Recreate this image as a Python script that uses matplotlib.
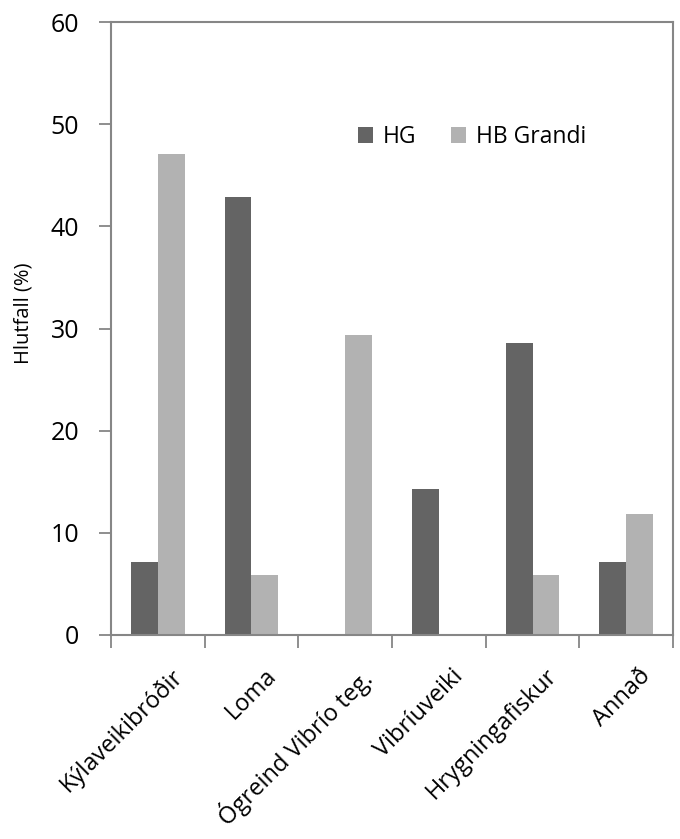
import matplotlib
matplotlib.use("Agg")
import matplotlib.pyplot as plt
import numpy as np

categories = ["Kýlaveikibróðir", "Loma", "Ógreind Vibrío teg.", "Vibríuveiki", "Hrygningafiskur", "Annað"]
hg = [7.1, 42.9, 0, 14.3, 28.6, 7.1]
hb_grandi = [47.1, 5.9, 29.4, 0, 5.9, 11.8]

plt.rcParams["font.family"] = ["Open Sans", "DejaVu Sans"]

fig = plt.figure(figsize=(6.8, 8.39), dpi=100)
ax = fig.add_axes([111 / 680, 1 - 635 / 839, (673 - 111) / 680, (635 - 22) / 839])

x = np.arange(len(categories))
w = 0.285
ax.bar(x - w / 2, hg, w, color="#646464", label="HG")
ax.bar(x + w / 2, hb_grandi, w, color="#b2b2b2", label="HB Grandi")

ax.set_xlim(-0.5, len(categories) - 0.5)
ax.set_ylim(0, 60)
ax.set_yticks(range(0, 61, 10))
ax.set_xticks(np.arange(-0.5, len(categories), 1))
ax.set_xticklabels([])
ax.tick_params(axis="y", labelsize=18, length=9, color="#868686", width=1.3, pad=14)
ax.tick_params(axis="x", length=9, color="#868686", width=1.3)
for s in ax.spines.values():
    s.set_color("#868686")
    s.set_linewidth(1.5)

# rotated category labels, right end just under each group
for i, c in enumerate(categories):
    ax.annotate(c, (i, 0), xycoords="data", xytext=(9, -21), textcoords="offset points",
                rotation=45, ha="right", va="top", rotation_mode="anchor", fontsize=17)

ax.set_ylabel("Hlutfall (%)", fontsize=14.5)
ax.yaxis.set_label_coords((34 - 111) / 562, 0.525)

ax.legend(loc="center left", bbox_to_anchor=(358 / 680, 1 - 137 / 839), bbox_transform=fig.transFigure,
          ncol=2, frameon=False, fontsize=16.5, borderpad=0, borderaxespad=0,
          handlelength=0.65, handleheight=0.65, handletextpad=0.44, columnspacing=1.5)

fig.savefig("out.png", dpi=100)
